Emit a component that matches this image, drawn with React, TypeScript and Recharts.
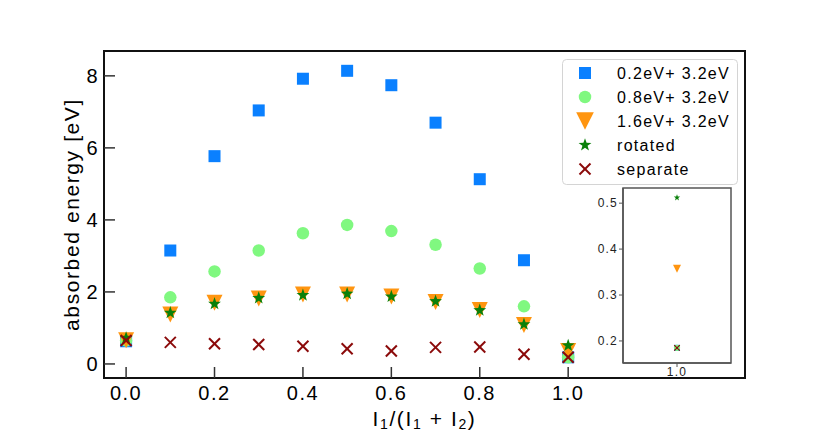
import { ScatterChart, Scatter, XAxis, YAxis, Legend, ReferenceArea } from 'recharts';

// pump fraction on the x axis
const fractions = [0, 0.1, 0.2, 0.3, 0.4, 0.5, 0.6, 0.7, 0.8, 0.9, 1.0];
// absorbed energy [eV] per configuration
const pump02 = [0.63, 3.15, 5.77, 7.04, 7.92, 8.14, 7.74, 6.7, 5.13, 2.88, 0.185];
const pump08 = [0.65, 1.85, 2.57, 3.15, 3.63, 3.86, 3.69, 3.31, 2.65, 1.6, 0.185];
const pump16 = [0.66, 1.37, 1.7, 1.82, 1.93, 1.93, 1.87, 1.72, 1.5, 1.08, 0.357];
const rotated = [0.72, 1.42, 1.67, 1.83, 1.91, 1.95, 1.87, 1.74, 1.49, 1.1, 0.512];
const separate = [0.65, 0.6, 0.56, 0.54, 0.49, 0.42, 0.36, 0.46, 0.47, 0.27, 0.185];

const xTicks = [0, 0.2, 0.4, 0.6, 0.8, 1.0];
const yTicks = [0, 2, 4, 6, 8];
const insetXTicks = [1.0];
const insetYTicks = [0.2, 0.3, 0.4, 0.5];

const xDomain = [-0.05, 1.4];
const yDomain = [-0.39, 8.69];
const insetXDomain = [0.9, 1.1];
const insetYDomain = [0.152, 0.533];

const FONT = '"Liberation Sans", Arial, Helvetica, sans-serif';

type Kind = 'square' | 'circle' | 'tri' | 'star' | 'cross';

const series: { name: string; values: number[]; color: string; kind: Kind }[] = [
  { name: '0.2eV+ 3.2eV', values: pump02, color: '#0a80ff', kind: 'square' },
  { name: '0.8eV+ 3.2eV', values: pump08, color: '#80f880', kind: 'circle' },
  { name: '1.6eV+ 3.2eV', values: pump16, color: '#ff9510', kind: 'tri' },
  { name: 'rotated', values: rotated, color: '#0a800a', kind: 'star' },
  { name: 'separate', values: separate, color: '#8b0a0a', kind: 'cross' },
];

const baseSize: Record<Kind, number> = { square: 12, circle: 12.5, tri: 16, star: 13.5, cross: 11 };

function starPath(cx: number, cy: number, R: number) {
  const r = R * 0.4;
  const pts: string[] = [];
  for (let i = 0; i < 10; i++) {
    const rad = i % 2 === 0 ? R : r;
    const a = -Math.PI / 2 + (i * Math.PI) / 5;
    pts.push(`${cx + rad * Math.cos(a)},${cy + rad * Math.sin(a)}`);
  }
  return 'M' + pts.join('L') + 'Z';
}

function Marker({ kind, cx, cy, color, scale = 1 }: { kind: Kind; cx: number; cy: number; color: string; scale?: number }) {
  const s = baseSize[kind] * scale;
  switch (kind) {
    case 'square':
      return <rect x={cx - s / 2} y={cy - s / 2} width={s} height={s} fill={color} />;
    case 'circle':
      return <circle cx={cx} cy={cy} r={s / 2} fill={color} />;
    case 'tri':
      return <path d={`M${cx - s / 2},${cy - s / 2}L${cx + s / 2},${cy - s / 2}L${cx},${cy + s / 2}Z`} fill={color} />;
    case 'star':
      return <path d={starPath(cx, cy, s / 2)} fill={color} />;
    default:
      return (
        <g stroke={color} strokeWidth={2 * Math.max(scale, 0.6)}>
          <line x1={cx - s / 2} y1={cy - s / 2} x2={cx + s / 2} y2={cy + s / 2} />
          <line x1={cx - s / 2} y1={cy + s / 2} x2={cx + s / 2} y2={cy - s / 2} />
        </g>
      );
  }
}

const shapeFor = (kind: Kind, color: string, scale = 1) => (p: any) =>
  <Marker kind={kind} cx={p.cx} cy={p.cy} color={color} scale={scale} />;

function LegendBox() {
  return (
    <svg width={176} height={126} style={{ display: 'block' }}>
      <rect x={0.5} y={0.5} width={175} height={125} rx={4} fill="#fff" fillOpacity={0.85} stroke="#d4d4d4" />
      {series.map((s, i) => (
        <g key={s.name}>
          <Marker kind={s.kind} cx={23} cy={14 + i * 24} color={s.color} scale={s.kind === 'tri' ? 1.1 : 1} />
          <text x={55} y={14 + i * 24} dominantBaseline="central" fontSize={16} letterSpacing={1.3} fontFamily={FONT} fill="#000">
            {s.name}
          </text>
        </g>
      ))}
    </svg>
  );
}

function XTitle(props: any) {
  const vb = props.viewBox;
  const cx = vb.x + vb.width / 2;
  const y = vb.y + 48;
  return (
    <text x={cx} y={y} textAnchor="middle" fontSize={21} fontFamily={FONT} letterSpacing={1.6} fill="#000">
      I<tspan dy={3} fontSize={14}>1</tspan>
      <tspan dy={-3}>/(I</tspan>
      <tspan dy={3} fontSize={14}>1</tspan>
      <tspan dy={-3}> + I</tspan>
      <tspan dy={3} fontSize={14}>2</tspan>
      <tspan dy={-3}>)</tspan>
    </text>
  );
}

function YTitle(props: any) {
  const vb = props.viewBox;
  const x = vb.x + 71;
  const y = vb.y + vb.height / 2;
  return (
    <text x={x} y={y} transform={`rotate(-90 ${x} ${y})`} textAnchor="middle" dominantBaseline="central" fontSize={21} fontFamily={FONT} letterSpacing={1.6} fill="#000">
      absorbed energy [eV]
    </text>
  );
}

const tickStyle = { fontSize: 20, fontFamily: FONT, fill: '#000', letterSpacing: 1.5 };
const insetTickStyle = { fontSize: 12, fontFamily: FONT, fill: '#222', letterSpacing: 1.2 };

export default function App() {
  const main = series.map(s => ({ ...s, data: fractions.map((x, i) => ({ x, y: s.values[i] })) }));
  const last = fractions.length - 1;
  const inset = series.map(s => ({ ...s, data: [{ x: fractions[last], y: s.values[last] }] }));

  return (
    <div style={{ position: 'fixed', left: 0, top: 0, width: 830, height: 434, background: '#fff' }}>
      <ScatterChart width={830} height={434} margin={{ top: 51, right: 85, bottom: 0, left: 0 }}>
        <XAxis
          type="number"
          dataKey="x"
          domain={xDomain}
          ticks={xTicks}
          tickFormatter={(v: number) => v.toFixed(1)}
          height={56}
          tickSize={-11}
          tickMargin={19}
          tick={tickStyle}
          axisLine={{ stroke: '#111', strokeWidth: 2 }}
          tickLine={{ stroke: '#333', strokeWidth: 1.5 }}
          label={{ content: XTitle }}
          allowDataOverflow
        />
        <YAxis
          type="number"
          dataKey="y"
          domain={yDomain}
          ticks={yTicks}
          width={104}
          tickSize={-11}
          tickMargin={16}
          tick={tickStyle}
          axisLine={{ stroke: '#111', strokeWidth: 2 }}
          tickLine={{ stroke: '#333', strokeWidth: 1.5 }}
          label={{ content: YTitle }}
          allowDataOverflow
        />
        <ReferenceArea x1={xDomain[0]} x2={xDomain[1]} y1={yDomain[0]} y2={yDomain[1]} fill="none" stroke="#111" strokeWidth={2} ifOverflow="visible" />
        {main.map(s => (
          <Scatter key={s.name} name={s.name} data={s.data} fill={s.color} shape={shapeFor(s.kind, s.color)} isAnimationActive={false} />
        ))}
        <Legend
          layout="vertical"
          align="center"
          verticalAlign="middle"
          content={() => <LegendBox />}
          wrapperStyle={{ position: 'absolute', left: 562, top: 59, width: 176, height: 126 }}
        />
      </ScatterChart>

      <div style={{ position: 'absolute', left: 583, top: 178 }}>
        <ScatterChart width={160} height={205} margin={{ top: 10, right: 12, bottom: 0, left: 0 }}>
          <XAxis
            type="number"
            dataKey="x"
            domain={insetXDomain}
            ticks={insetXTicks}
            tickFormatter={(v: number) => v.toFixed(1)}
            height={20}
            tickSize={4}
            tickMargin={0}
            tick={insetTickStyle}
            axisLine={{ stroke: '#555', strokeWidth: 1.5 }}
            tickLine={{ stroke: '#555' }}
          />
          <YAxis
            type="number"
            dataKey="y"
            domain={insetYDomain}
            ticks={insetYTicks}
            tickFormatter={(v: number) => v.toFixed(1)}
            width={40}
            tickSize={4}
            tickMargin={1}
            tick={insetTickStyle}
            axisLine={{ stroke: '#555', strokeWidth: 1.5 }}
            tickLine={{ stroke: '#555' }}
            allowDataOverflow
          />
          <ReferenceArea x1={insetXDomain[0]} x2={insetXDomain[1]} y1={insetYDomain[0]} y2={insetYDomain[1]} fill="none" stroke="#555" strokeWidth={1.5} ifOverflow="visible" />
          {inset.map(s => (
            <Scatter key={s.name} name={s.name} data={s.data} fill={s.color} shape={shapeFor(s.kind, s.color, 0.5)} isAnimationActive={false} />
          ))}
        </ScatterChart>
      </div>
    </div>
  );
}
